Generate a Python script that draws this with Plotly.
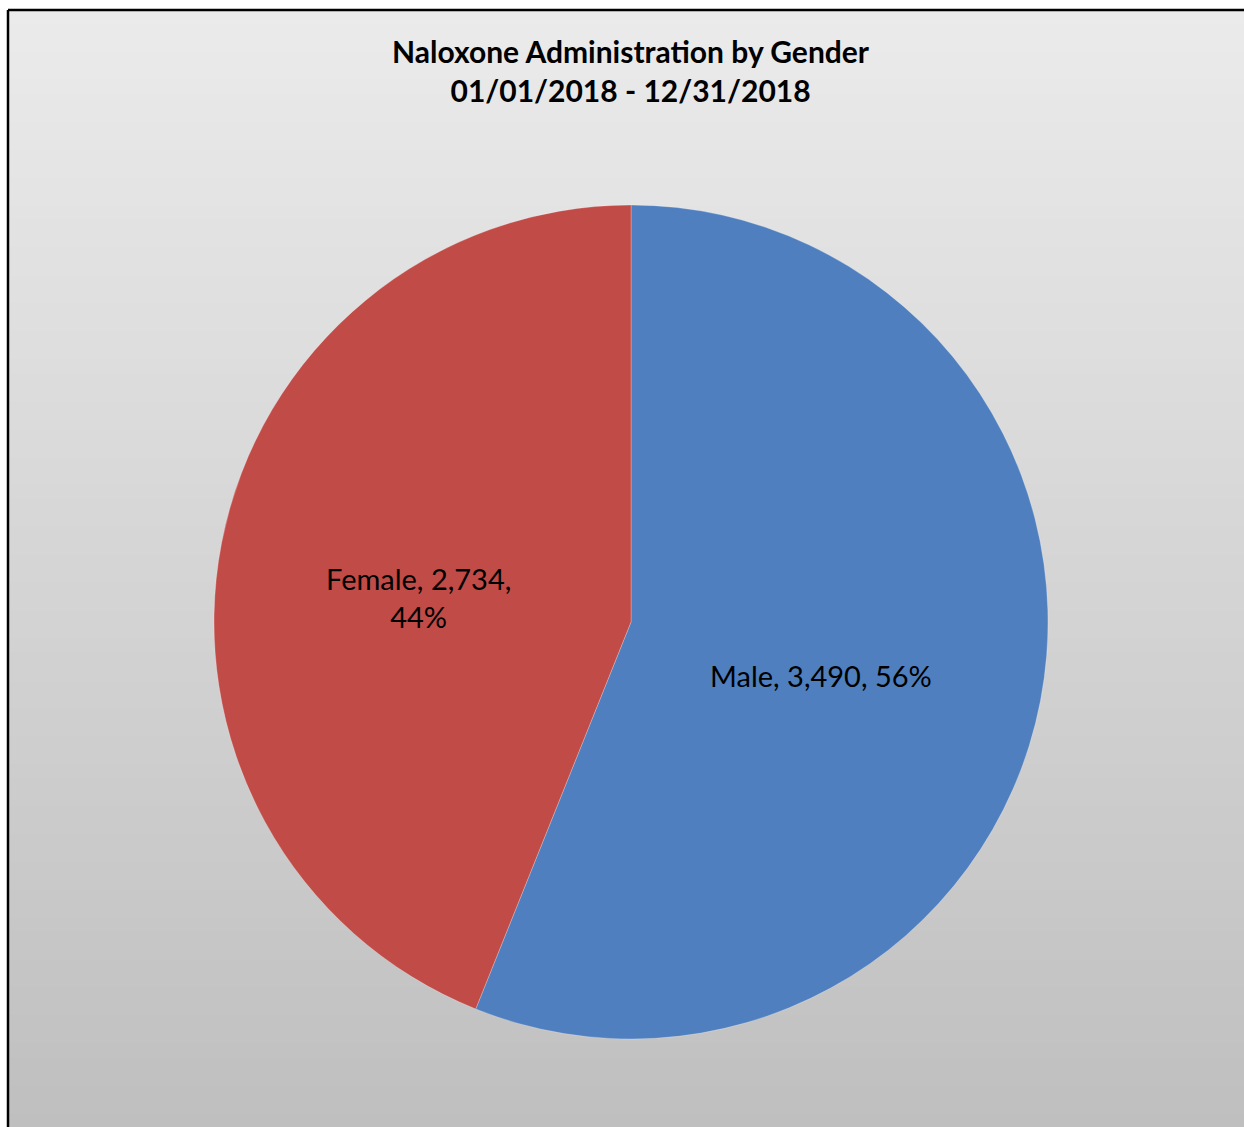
import math
import plotly.graph_objects as go

# ---- data ----
categories = ["Male", "Female"]
counts = [3490, 2734]
slice_colors = ["#4f7fbe", "#c14b47"]
title_lines = ["Naloxone Administration by Gender", "01/01/2018 - 12/31/2018"]

W, H = 1244, 1127
FONT = "Lato"

# pie geometry (pixels)
cx, cy, R = 631, 622, 417

fig = go.Figure()
fig.add_trace(go.Pie(
    labels=categories,
    values=counts,
    sort=False,
    direction="clockwise",
    rotation=0,
    textinfo="none",
    marker=dict(colors=slice_colors, line=dict(color="rgba(255,255,255,0.25)", width=1)),
    domain=dict(x=[(cx - R) / W, (cx + R) / W], y=[1 - (cy + R) / H, 1 - (cy - R) / H]),
    showlegend=False,
    hovertemplate="%{label}: %{value:,} (%{percent})<extra></extra>",
))

shapes = []
# background vertical gradient (bands)
top_px, bot_px = 10, H
n = 80
c_top, c_bot = 235, 191
for i in range(n):
    y0p = top_px + (bot_px - top_px) * i / n
    y1p = top_px + (bot_px - top_px) * (i + 1) / n + 1
    c = round(c_top + (c_bot - c_top) * (i + 0.5) / n)
    shapes.append(dict(type="rect", xref="paper", yref="paper", layer="below",
                       x0=8 / W, x1=1.02, y0=max(0, 1 - y1p / H), y1=1 - y0p / H,
                       fillcolor=f"rgb({c},{c},{c})", line=dict(width=0)))
# chart border (left and top edges only visible)
shapes.append(dict(type="line", xref="paper", yref="paper", layer="above",
                   x0=8 / W, x1=8 / W, y0=-0.02, y1=1 - 10 / H,
                   line=dict(color="black", width=2.5)))
shapes.append(dict(type="line", xref="paper", yref="paper", layer="above",
                   x0=8 / W, x1=1.02, y0=1 - 10 / H, y1=1 - 10 / H,
                   line=dict(color="black", width=2.5)))

annotations = [dict(
    text="<b>" + title_lines[0] + "</b><br><b>" + title_lines[1] + "</b>",
    x=cx / W, y=1 - 70.5 / H, xref="paper", yref="paper",
    xanchor="center", yanchor="middle", showarrow=False,
    font=dict(family=FONT, size=30, color="black"),
)]

# data labels from values
total = sum(counts)
radial = {"Male": 0.465, "Female": 0.52}
cum = 0
for cat, v in zip(categories, counts):
    pct = round(100 * v / total)
    mid = cum + v / 2
    cum += v
    ang = 2 * math.pi * mid / total
    r = radial[cat] * R
    dx = r * math.sin(ang)
    dy = -r * math.cos(ang) + 17
    if cat == "Female":
        txt = f"{cat}, {v:,},<br>{pct}%"
    else:
        txt = f"{cat}, {v:,}, {pct}%"
    annotations.append(dict(
        text=txt, x=(cx + dx) / W, y=1 - (cy + dy) / H, xref="paper", yref="paper",
        xanchor="center", yanchor="middle", showarrow=False, align="center",
        font=dict(family=FONT, size=29, color="black"),
    ))

fig.update_layout(
    width=W, height=H,
    margin=dict(l=0, r=0, t=0, b=0),
    paper_bgcolor="white",
    plot_bgcolor="rgba(0,0,0,0)",
    shapes=shapes,
    annotations=annotations,
)

fig.write_html("out.html",
               config={"displayModeBar": False},
               post_script="document.body.style.margin='0';document.body.style.overflow='hidden';")
